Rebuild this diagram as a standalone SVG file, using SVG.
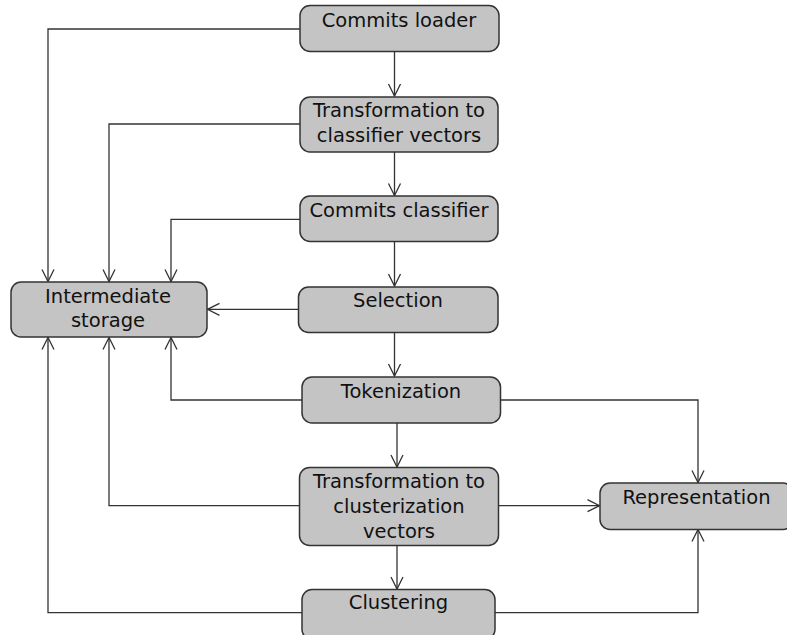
<svg xmlns="http://www.w3.org/2000/svg" width="787" height="635" viewBox="0 0 787 635">
<style>
.box{fill:#c4c4c4;stroke:#333;stroke-width:1.5}
.lbl{font-family:"DejaVu Sans","Liberation Sans",sans-serif;font-size:19.5px;fill:#111;text-anchor:middle}
.edge{fill:none;stroke:#333;stroke-width:1.3;marker-end:url(#arr)}
</style>
<defs>
<marker id="arr" markerUnits="userSpaceOnUse" markerWidth="16" markerHeight="16" viewBox="-14 -8 16 16" refX="0" refY="0" orient="auto">
<path d="M-12,-6 L0,0 L-12,6" fill="none" stroke="#333" stroke-width="1.3"/>
</marker>
</defs>
<rect width="787" height="635" fill="#fff"/>
<g id="connectors">
<path class="edge" d="M394.5,52 V96"/>
<path class="edge" d="M394.5,152 V195.5"/>
<path class="edge" d="M394.5,241.5 V286"/>
<path class="edge" d="M394.5,332.5 V376"/>
<path class="edge" d="M397,423 V467"/>
<path class="edge" d="M397,545.5 V589"/>
<path class="edge" d="M300,29 H48 V281.5"/>
<path class="edge" d="M300,124 H109 V281.5"/>
<path class="edge" d="M300,219.3 H171 V281.5"/>
<path class="edge" d="M298.5,309.3 H207.5"/>
<path class="edge" d="M302,400 H171 V337.5"/>
<path class="edge" d="M299.5,505.7 H109 V337.5"/>
<path class="edge" d="M302,612.7 H48 V337.5"/>
<path class="edge" d="M500.5,400 H698 V482.5"/>
<path class="edge" d="M498.5,505.7 H599.5"/>
<path class="edge" d="M495,612.7 H698 V529.5"/>
</g>
<g id="commits-loader">
<rect class="box" x="300" y="5.5" width="199" height="46" rx="10"/>
<text class="lbl" x="399" y="27">Commits loader</text>
</g>
<g id="transformation-classifier">
<rect class="box" x="300" y="97" width="198" height="55" rx="10"/>
<text class="lbl" x="399" y="117">Transformation to</text>
<text class="lbl" x="399" y="142">classifier vectors</text>
</g>
<g id="commits-classifier">
<rect class="box" x="300" y="196" width="198" height="45.5" rx="10"/>
<text class="lbl" x="399" y="217">Commits classifier</text>
</g>
<g id="intermediate-storage">
<rect class="box" x="11" y="282" width="196" height="55" rx="10"/>
<text class="lbl" x="108" y="302.5">Intermediate</text>
<text class="lbl" x="108" y="326.5">storage</text>
</g>
<g id="selection">
<rect class="box" x="298.5" y="287" width="199.5" height="45.5" rx="10"/>
<text class="lbl" x="398" y="307">Selection</text>
</g>
<g id="tokenization">
<rect class="box" x="302" y="377" width="198.5" height="46" rx="10"/>
<text class="lbl" x="401" y="398">Tokenization</text>
</g>
<g id="transformation-clusterization">
<rect class="box" x="299.5" y="467.5" width="199" height="78" rx="10"/>
<text class="lbl" x="399" y="488">Transformation to</text>
<text class="lbl" x="399" y="513">clusterization</text>
<text class="lbl" x="399" y="538">vectors</text>
</g>
<g id="clustering">
<rect class="box" x="302" y="589.5" width="193" height="50" rx="10"/>
<text class="lbl" x="398.5" y="608.5">Clustering</text>
</g>
<g id="representation">
<rect class="box" x="600" y="483" width="193" height="46.5" rx="10"/>
<text class="lbl" x="696.5" y="503.5">Representation</text>
</g>
</svg>
